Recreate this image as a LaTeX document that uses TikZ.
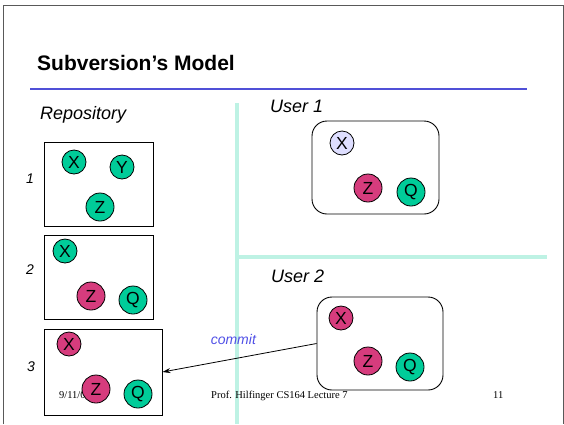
\documentclass[tikz,border=0pt]{standalone}
\usepackage{fontspec}
\usetikzlibrary{arrows.meta}
\setmainfont{Liberation Sans}
\newfontfamily\footfont{Liberation Serif}
\definecolor{grn}{RGB}{0,204,153}
\definecolor{mag}{RGB}{214,60,125}
\definecolor{lav}{RGB}{222,222,255}
\definecolor{sep}{RGB}{190,242,228}
\definecolor{rulecol}{RGB}{80,80,215}
\definecolor{commitcol}{RGB}{80,80,230}
\begin{document}
\begin{tikzpicture}[x=1pt,y=-1pt,>={Stealth[length=8pt,width=5pt]},
  ver/.style={shape=circle,draw,line width=0.8pt,inner sep=0pt,font=\fontsize{17.5}{17.5}\selectfont},
  sm/.style={ver,minimum size=24pt},
  lg/.style={ver,minimum size=28pt},
  box/.style={draw,line width=0.9pt,inner sep=0pt},
  lbl/.style={anchor=base west,inner sep=0pt,font=\fontsize{18}{18}\selectfont\itshape},
  num/.style={inner sep=0pt,font=\fontsize{14}{14}\selectfont\itshape}]
\useasboundingbox (0,0) rectangle (564,424);

% slide frame and rules
\draw[gray!70!black,line width=1pt] (3,424) -- (3,5) -- (563,5) -- (563,424);
\draw[rulecol,line width=2.2pt] (30,89) -- (527,89);
\draw[sep,line width=3.5pt] (237,103) -- (237,424);
\draw[sep,line width=3.5pt] (237,257) -- (547,257);

\node(title) at (37,70)[anchor=base west,inner sep=0pt,font=\fontsize{21}{21}\selectfont\bfseries]{Subversion's Model};
\node(repo)  at (40,119)[lbl]{Repository};
\node(user1) at (270,112)[lbl]{User 1};
\node(user2) at (271,282)[lbl]{User 2};

\node(n1) at (30,179)[num]{1};
\node(n2) at (30,270)[num]{2};
\node(n3) at (31,367)[num]{3};

% footer
\node(date) at (59,398)[anchor=base west,inner sep=0pt,font=\fontsize{10.5}{10.5}\selectfont\footfont]{9/11/08};
\node(foot) at (211,398)[anchor=base west,inner sep=0pt,font=\fontsize{10.5}{10.5}\selectfont\footfont]{Prof. Hilfinger CS164 Lecture 7};
\node(page) at (493,398)[anchor=base west,inner sep=0pt,font=\fontsize{10.5}{10.5}\selectfont\footfont]{11};

% repository revisions
\node(r1) at (98.5,184)[box,minimum width=109pt,minimum height=84pt]{};
\node(r2) at (98.5,277)[box,minimum width=109pt,minimum height=84pt]{};
\node(r3) at (103,372)[box,minimum width=118pt,minimum height=86pt]{};

\node(r1x) at (74,162)[sm,fill=grn]{X};
\node(r1y) at (122,167)[sm,fill=grn]{Y};
\node(r1z) at (100,207)[lg,fill=grn]{Z};

\node(r2x) at (65,251)[sm,fill=grn]{X};
\node(r2z) at (91,296)[lg,fill=mag]{Z};
\node(r2q) at (133,300)[lg,fill=grn]{Q};

\node(r3x) at (69,344)[sm,fill=mag]{X};
\node(r3z) at (96,389)[lg,fill=mag]{Z};
\node(r3q) at (138,394)[lg,fill=grn]{Q};

% working copies
\node(u1) at (375.5,167.5)[box,rounded corners=15pt,minimum width=127pt,minimum height=93pt]{};
\node(u1x) at (342,143)[sm,fill=lav]{X};
\node(u1z) at (368,188)[lg,fill=mag]{Z};
\node(u1q) at (411,192)[lg,fill=grn]{Q};

\node(u2) at (380,343.5)[box,rounded corners=15pt,minimum width=126pt,minimum height=93pt]{};
\node(u2x) at (341,318)[sm,fill=mag]{X};
\node(u2z) at (368,361)[lg,fill=mag]{Z};
\node(u2q) at (410,367)[lg,fill=grn]{Q};

\path [->,line width=0.8pt]
  (u2.west)  edge  node [above=14pt,pos=0.54,inner sep=0pt,text=commitcol,font=\fontsize{14}{14}\selectfont\itshape] {commit}  (r3.east);

\end{tikzpicture}
\end{document}
